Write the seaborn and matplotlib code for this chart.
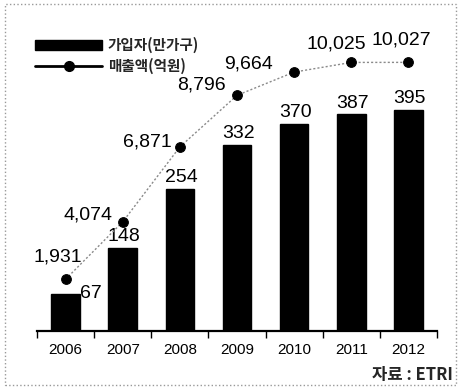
import matplotlib
matplotlib.use('Agg')
import matplotlib.pyplot as plt
import seaborn as sns
import pandas as pd
from matplotlib.patches import Patch, Rectangle
from matplotlib.lines import Line2D

# ---- data ----
years = ['2006', '2007', '2008', '2009', '2010', '2011', '2012']
subscribers = [67, 148, 254, 332, 370, 387, 395]          # 가입자(만가구)
sales = [1931, 4074, 6871, 8796, 9664, 10025, 10027]       # 매출액(억원)
bar_label = '가입자(만가구)'
line_label = '매출액(억원)'
source_text = '자료 : ETRI'

# label offsets (px, screen) for line value labels
line_lbl_off = [(-8, -22), (-35, -7), (-32, -5), (-36, -10), (-46, -8), (-15, -18), (-7, -22)]

sns.set_theme(style='white')
plt.rcParams['font.family'] = ['Liberation Sans', 'Noto Sans CJK KR', 'DejaVu Sans']

df = pd.DataFrame({'year': years, 'subs': subscribers, 'sales': sales})

W, H = 467, 387
fig = plt.figure(figsize=(W / 100, H / 100), dpi=100)
fig.patch.set_facecolor('white')
ax = fig.add_axes([37 / W, 56 / H, 400 / W, 291 / H])

sns.barplot(data=df, x='year', y='subs', color='black', width=0.5, ax=ax,
            saturation=1, edgecolor='black', errorbar=None)

ax2 = ax.twinx()
sns.pointplot(data=df, x='year', y='sales', ax=ax2, color='#8a8a8a', errorbar=None,
              linestyle=(0, (1.5, 1.5)), linewidth=1, marker='o', markersize=7,
              markerfacecolor='black', markeredgecolor='black')

ax.set_ylim(0, 520)
ax2.set_ylim(0, 10862)
ax.set_xlim(-0.5, 6.5)
ax2.set_xlim(-0.5, 6.5)

for a in (ax, ax2):
    for s in ['left', 'right', 'top']:
        a.spines[s].set_visible(False)
    a.set_yticks([])
    a.set_ylabel('')
    a.set_xlabel('')
    a.set_facecolor('none')
ax2.spines['bottom'].set_visible(False)
ax.spines['bottom'].set_color('black')
ax.spines['bottom'].set_linewidth(1.6)

ax.set_xticks(range(len(years)))
ax.set_xticklabels(years, fontsize=11)
ax.set_xticks([i - 0.5 for i in range(len(years) + 1)], minor=True)
ax.tick_params(axis='x', which='major', length=0, pad=8.5, colors='black')
ax.tick_params(axis='x', which='minor', length=5, width=1, direction='out', color='black', bottom=True)
ax2.tick_params(axis='x', which='both', length=0, labelbottom=False, labeltop=False)

# bar value labels
for i, v in enumerate(subscribers):
    if i == 0:
        ax.annotate(f'{v}', (i + 0.25, v), xytext=(0, 0), textcoords='offset points',
                    ha='left', va='center', fontsize=14, color='black')
    else:
        ax.annotate(f'{v}', (i, v), xytext=(1, 2), textcoords='offset points',
                    ha='center', va='bottom', fontsize=14, color='black')

# line value labels
for i, v in enumerate(sales):
    dx, dy = line_lbl_off[i]
    ax2.annotate(f'{v:,}', (i, v), xytext=(dx * 0.72, -dy * 0.72), textcoords='offset points',
                 ha='center', va='center', fontsize=14, color='black')

# legend
handles = [Patch(facecolor='black', edgecolor='black'),
           Line2D([], [], color='black', lw=2, marker='o', markersize=7)]
fig.legend(handles, [bar_label, line_label], loc='upper left',
           bbox_to_anchor=(35 / W, 1 - 37 / H), frameon=False,
           prop={'family': 'Noto Sans CJK KR', 'weight': 'bold', 'size': 10.5},
           handlelength=4.6, handleheight=0.7, handletextpad=0.4,
           labelspacing=0.3, borderaxespad=0, borderpad=0)

fig.text(453 / W, 1 - 375 / H, source_text, ha='right', va='center', fontsize=12,
         weight='bold', family=['Noto Sans CJK KR'])

fig.patches.append(Rectangle((5 / W, 2 / H), 451 / W, 381 / H, transform=fig.transFigure,
                             fill=False, ls=':', ec='#999999', lw=1))

fig.savefig('out.png', dpi=100)
